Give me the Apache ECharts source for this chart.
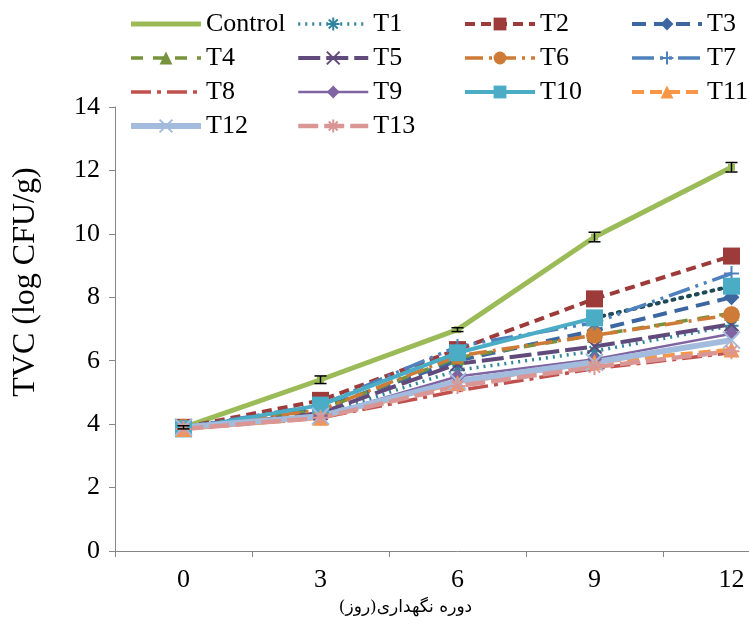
<!DOCTYPE html>
<html>
<head>
<meta charset="utf-8">
<script src="https://cdn.jsdelivr.net/npm/echarts/dist/echarts.min.js"></script>
<style>html,body{margin:0;padding:0;background:#fff;overflow:hidden;width:749px;height:630px}#c{width:800px;height:630px}</style>
</head>
<body>
<div id="c"></div>
<script>
const days = ['0', '3', '6', '9', '12'];
const control = [3.9, 5.4, 6.98, 9.9, 12.1];
const controlErr = [0.05, 0.12, 0.06, 0.15, 0.15];
const t1 = [3.85, 4.3, 5.7, 6.3, 7.1];
const t2 = [3.9, 4.75, 6.35, 7.95, 9.3];
const t3 = [3.9, 4.5, 6.0, 6.95, 8.0];
const t4 = [3.88, 4.45, 6.1, 6.8, 7.5];
const t5 = [3.85, 4.35, 5.9, 6.45, 7.15];
const t6 = [3.9, 4.45, 6.15, 6.8, 7.45];
const t7 = [3.9, 4.6, 6.45, 7.2, 8.75];
const t8 = [3.85, 4.2, 5.05, 5.75, 6.25];
const t9 = [3.88, 4.25, 5.5, 6.05, 6.85];
const t10 = [3.85, 4.6, 6.25, 7.35, 8.35];
const t11 = [3.85, 4.2, 5.3, 5.95, 6.35];
const t12 = [3.9, 4.25, 5.35, 5.95, 6.65];
const t13 = [3.85, 4.2, 5.2, 5.8, 6.3];
const yTicks = [0, 2, 4, 6, 8, 10, 12, 14];

const SERIF = 'Liberation Serif, Times New Roman, serif';
const X_SYM = 'path://M0,0 L10,10 M10,0 L0,10';
const PLUS_SYM = 'path://M5,0 L5,10 M0,5 L10,5';
const AST_SYM = 'path://M5,0 L5,10 M0,5 L10,5 M1.5,1.5 L8.5,8.5 M8.5,1.5 L1.5,8.5';

function line(name, data, color, type, width, symbol, size, stroke) {
  return {
    name: name, type: 'line', data: data,
    symbol: symbol, symbolSize: size,
    lineStyle: { color: color, width: width, type: type, cap: 'butt' },
    itemStyle: { color: stroke ? 'none' : color, borderColor: color, borderWidth: stroke ? 2 : 0 },
    emphasis: { disabled: true },
    animation: false
  };
}

const series = [
  line('Control', control, '#9BBB59', 'solid', 5, 'rect', 7),
  line('T1', t1, '#31859C', [2, 5], 3.5, AST_SYM, 14, true),
  line('T2', t2, '#9C3B39', [10, 6], 4, 'rect', 17),
  line('T3', t3, '#3B66A0', [14, 8], 4, 'diamond', 16),
  line('T4', t4, '#77933C', [12, 10], 3.5, 'triangle', 15),
  line('T5', t5, '#604A7B', [22, 6], 4, X_SYM, 14, true),
  line('T6', t6, '#CD7B36', [18, 6, 3, 6], 3.5, 'circle', 17),
  line('T7', t7, '#4F81BD', [22, 6, 3, 6, 3, 6], 3.5, PLUS_SYM, 15, true),
  line('T8', t8, '#C0504D', [20, 6, 4, 6], 3.5, 'none', 0),
  line('T9', t9, '#8064A2', 'solid', 2.5, 'diamond', 15),
  line('T10', t10.map((v, i) => i <= 3 ? v : null), '#4BACC6', 'solid', 4, 'rect', 17),
  line('T11', t11, '#F79646', [12, 6], 4, 'triangle', 16),
  line('T12', t12, '#A3BBDD', 'solid', 6, X_SYM, 17, true),
  line('T13', t13, '#D99694', [20, 6], 4.5, AST_SYM, 16, true),
  {
    name: 'T10-tail', type: 'line',
    data: t10.map((v, i) => i >= 3 ? v : null),
    symbol: 'none', z: 1,
    lineStyle: { color: '#1E4A58', width: 4, type: [2, 6], cap: 'round' },
    animation: false, emphasis: { disabled: true }
  },
  {
    name: 'T10-end', type: 'line',
    data: t10.map((v, i) => i === 4 ? v : null),
    symbol: 'rect', symbolSize: 17, z: 3,
    itemStyle: { color: '#4BACC6' },
    lineStyle: { width: 0 },
    animation: false, emphasis: { disabled: true }
  },
  {
    name: 'ControlErr', type: 'custom', z: 5, animation: false,
    data: control.map((v, i) => [i, v, controlErr[i]]),
    renderItem: function (params, api) {
      const i = api.value(0), v = api.value(1), e = api.value(2);
      const top = api.coord([i, v + e]);
      const bot = api.coord([i, v - e]);
      const hw = 6;
      const st = { stroke: '#000', lineWidth: 1.5 };
      return {
        type: 'group', children: [
          { type: 'line', shape: { x1: top[0], y1: top[1], x2: bot[0], y2: bot[1] }, style: st },
          { type: 'line', shape: { x1: top[0] - hw, y1: top[1], x2: top[0] + hw, y2: top[1] }, style: st },
          { type: 'line', shape: { x1: bot[0] - hw, y1: bot[1], x2: bot[0] + hw, y2: bot[1] }, style: st }
        ]
      };
    }
  }
];

const noMarker = n => ({ name: n, itemStyle: { opacity: 0 } });

function legendCol(left, names) {
  return {
    orient: 'vertical', left: left, top: 11, padding: 0,
    itemWidth: 70, itemHeight: 16, itemGap: 8,
    data: names,
    lineStyle: { width: 'inherit', type: 'inherit' },
    textStyle: { fontFamily: SERIF, fontSize: 26, lineHeight: 22, color: '#000' },
    selectedMode: false
  };
}

const chart = echarts.init(document.getElementById('c'), null, { renderer: 'canvas', width: 800, height: 630 });
chart.setOption({
  backgroundColor: '#fff',
  animation: false,
  legend: [
    legendCol(128, [noMarker('Control'), 'T4', noMarker('T8'), 'T12']),
    legendCol(296, ['T1', 'T5', 'T9', 'T13']),
    legendCol(463, ['T2', 'T6', 'T10']),
    legendCol(630, ['T3', 'T7', 'T11'])
  ],
  grid: { left: 115, top: 107, right: 0, bottom: 79 },
  xAxis: {
    type: 'category', data: days, boundaryGap: true,
    axisLine: { lineStyle: { color: '#868686', width: 1 } },
    axisTick: { show: true, length: 6, inside: false, lineStyle: { color: '#868686' } },
    axisLabel: { fontFamily: SERIF, fontSize: 26, color: '#000', margin: 16 },
    splitLine: { show: false },
    name: 'دوره نگهداری(روز)', nameLocation: 'middle', nameGap: 48,
    nameTextStyle: { fontFamily: 'DejaVu Serif, DejaVu Sans, serif', fontSize: 17, color: '#000', padding: [0, 104, 0, 0] }
  },
  yAxis: {
    type: 'value', min: 0, max: 14, interval: 2,
    axisLine: { show: true, lineStyle: { color: '#868686', width: 1 } },
    axisTick: { show: true, length: 6, inside: false, lineStyle: { color: '#868686' } },
    axisLabel: { fontFamily: SERIF, fontSize: 26, color: '#000', margin: 15,
      formatter: v => yTicks.includes(v) ? String(v) : '' },
    splitLine: { show: false },
    name: 'TVC (log CFU/g)', nameLocation: 'middle', nameGap: 73, nameRotate: 90,
    nameTextStyle: { fontFamily: SERIF, fontSize: 32, color: '#000', padding: [0, 0, 0, 94] }
  },
  series: series
});
</script>
</body>
</html>
